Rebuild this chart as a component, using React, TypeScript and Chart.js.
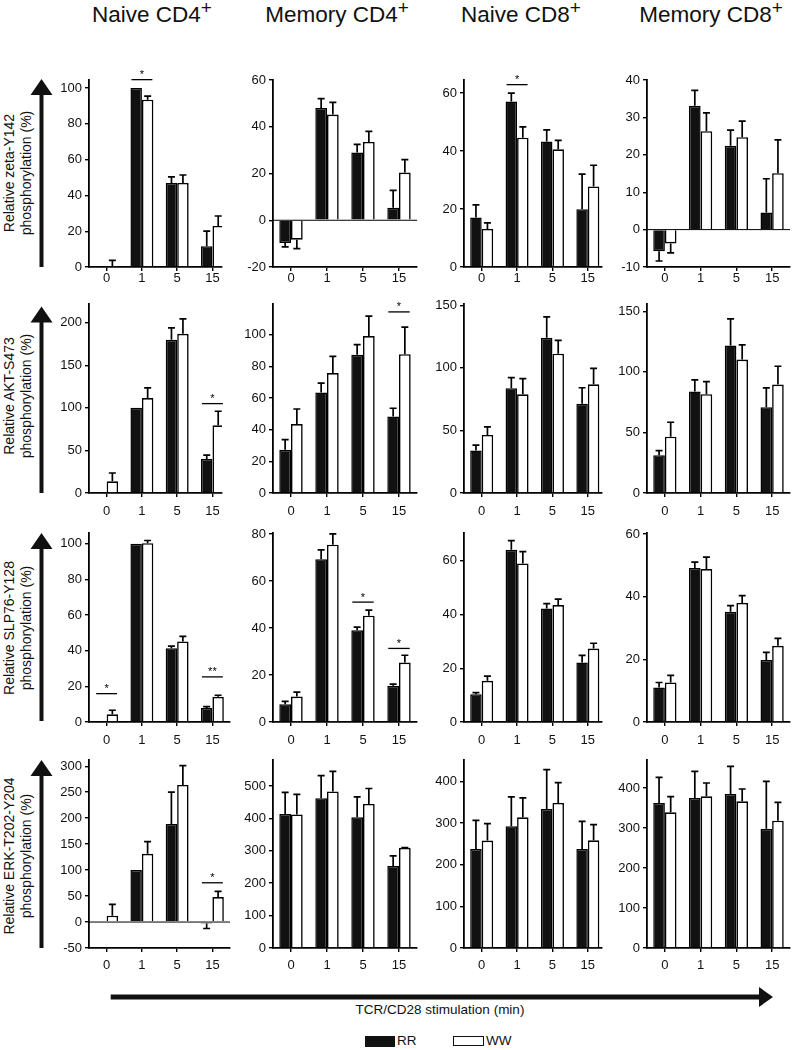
import React, { useEffect, useRef } from 'react';
import { Chart, registerables } from 'chart.js';

Chart.register(...registerables);

const FONT = '"Liberation Sans", Arial, Helvetica, sans-serif';

// ---------- categories / labels ----------
const timeLabels = ['0', '1', '5', '15'];
const cellTypes = ['Naive CD4', 'Memory CD4', 'Naive CD8', 'Memory CD8'];
const readouts = ['zeta-Y142', 'AKT-S473', 'SLP76-Y128', 'ERK-T202-Y204'];
const seriesNames = ['RR', 'WW'];
const xAxisTitle = 'TCR/CD28 stimulation (min)';

// ---------- Row 1: zeta-Y142 ----------
const zetaNaiveCD4_RR = [0, 100, 47, 11.6];
const zetaNaiveCD4_RRerr = [0, 0, 3.4, 8.5];
const zetaNaiveCD4_WW = [0.3, 93.5, 47, 22.9];
const zetaNaiveCD4_WWerr = [3.4, 2, 4.4, 5.6];
const zetaNaiveCD4_ticks = [0, 20, 40, 60, 80, 100];

const zetaMemCD4_RR = [-9.7, 48, 29, 5.3];
const zetaMemCD4_RRerr = [1.7, 4, 3.5, 7.5];
const zetaMemCD4_WW = [-8.3, 45.2, 33.5, 20.4];
const zetaMemCD4_WWerr = [3.8, 5.2, 4.5, 5.5];
const zetaMemCD4_ticks = [-20, 0, 20, 40, 60];

const zetaNaiveCD8_RR = [17.1, 57.1, 43.3, 19.9];
const zetaNaiveCD8_RRerr = [4.3, 2.9, 4, 12.1];
const zetaNaiveCD8_WW = [13.1, 44.6, 40.6, 27.8];
const zetaNaiveCD8_WWerr = [2.1, 3.7, 3.1, 7.3];
const zetaNaiveCD8_ticks = [0, 20, 40, 60];

const zetaMemCD8_RR = [-5.8, 33.1, 22.4, 4.6];
const zetaMemCD8_RRerr = [2.6, 4.1, 4.2, 9];
const zetaMemCD8_WW = [-3.7, 26.3, 24.7, 15.1];
const zetaMemCD8_WWerr = [2.5, 4.9, 4.3, 8.9];
const zetaMemCD8_ticks = [-10, 0, 10, 20, 30, 40];

// ---------- Row 2: AKT-S473 ----------
const aktNaiveCD4_RR = [0, 100, 180, 40];
const aktNaiveCD4_RRerr = [0, 0, 14, 4.5];
const aktNaiveCD4_WW = [13.7, 111.5, 187, 79.5];
const aktNaiveCD4_WWerr = [9.8, 12, 17.5, 16.5];
const aktNaiveCD4_ticks = [0, 50, 100, 150, 200];

const aktMemCD4_RR = [27.4, 63.6, 87.4, 48.3];
const aktMemCD4_RRerr = [6.4, 5.9, 6.4, 5.3];
const aktMemCD4_WW = [43.6, 75.8, 99.2, 87.8];
const aktMemCD4_WWerr = [9.5, 10.6, 12.6, 17.1];
const aktMemCD4_ticks = [0, 20, 40, 60, 80, 100];

const aktNaiveCD8_RR = [33.9, 83.6, 124.1, 71.3];
const aktNaiveCD8_RRerr = [4.3, 8.5, 16.6, 12.8];
const aktNaiveCD8_WW = [46.4, 78.8, 111.3, 86.8];
const aktNaiveCD8_WWerr = [6.5, 12.5, 10.7, 12.8];
const aktNaiveCD8_ticks = [0, 50, 100, 150];

const aktMemCD8_RR = [31.1, 83.7, 121.7, 70.7];
const aktMemCD8_RRerr = [3.9, 9.6, 22, 16];
const aktMemCD8_WW = [46.5, 81.5, 110.1, 89.5];
const aktMemCD8_WWerr = [11.9, 10.4, 12.1, 15.1];
const aktMemCD8_ticks = [0, 50, 100, 150];

// ---------- Row 3: SLP76-Y128 ----------
const slpNaiveCD4_RR = [0, 100, 41.3, 7.9];
const slpNaiveCD4_RRerr = [0, 0, 1.3, 0.7];
const slpNaiveCD4_WW = [4.3, 100.3, 45.2, 14.1];
const slpNaiveCD4_WWerr = [2.3, 1.5, 2.8, 0.9];
const slpNaiveCD4_ticks = [0, 20, 40, 60, 80, 100];

const slpMemCD4_RR = [7.5, 69.2, 39, 15.4];
const slpMemCD4_RRerr = [1.3, 4, 1.4, 0.7];
const slpMemCD4_WW = [10.8, 75.4, 45.2, 25.3];
const slpMemCD4_WWerr = [1.9, 4.6, 2.4, 3.1];
const slpMemCD4_ticks = [0, 20, 40, 60, 80];

const slpNaiveCD8_RR = [10.3, 64.1, 42.2, 22.1];
const slpNaiveCD8_RRerr = [0.6, 3.4, 1.8, 2.7];
const slpNaiveCD8_WW = [15.3, 59, 43.5, 27.3];
const slpNaiveCD8_WWerr = [1.8, 4.4, 2.2, 2];
const slpNaiveCD8_ticks = [0, 20, 40, 60];

const slpMemCD8_RR = [11, 49.1, 35.2, 19.8];
const slpMemCD8_RRerr = [1.6, 1.9, 1.9, 2.4];
const slpMemCD8_WW = [12.6, 48.8, 38, 24.3];
const slpMemCD8_WWerr = [2.3, 3.8, 2.3, 2.4];
const slpMemCD8_ticks = [0, 20, 40, 60];

// ---------- Row 4: ERK-T202-Y204 ----------
const erkNaiveCD4_RR = [0, 100, 189, -3];
const erkNaiveCD4_RRerr = [0, 0, 61, 9.5];
const erkNaiveCD4_WW = [12.2, 131.4, 264, 48];
const erkNaiveCD4_WWerr = [21.8, 23.6, 37, 11];
const erkNaiveCD4_ticks = [-50, 0, 50, 100, 150, 200, 250, 300];

const erkMemCD4_RR = [413.5, 462, 403, 253];
const erkMemCD4_RRerr = [66.8, 70, 63, 31];
const erkMemCD4_WW = [412, 483, 444.6, 309];
const erkMemCD4_WWerr = [62, 62, 47.4, 1];
const erkMemCD4_ticks = [0, 100, 200, 300, 400, 500];

const erkNaiveCD8_RR = [237.6, 292, 333.6, 237.6];
const erkNaiveCD8_RRerr = [68.8, 70.4, 94.4, 66.4];
const erkNaiveCD8_WW = [257.6, 313.6, 348, 258.4];
const erkNaiveCD8_WWerr = [40.8, 46.4, 48.8, 37.6];
const erkNaiveCD8_ticks = [0, 100, 200, 300, 400];

const erkMemCD8_RR = [362.5, 375, 385, 298.3];
const erkMemCD8_RRerr = [64.2, 66.7, 69.2, 118.4];
const erkMemCD8_WW = [339.2, 379.2, 366.7, 318.3];
const erkMemCD8_WWerr = [39.1, 33.3, 30.8, 45.9];
const erkMemCD8_ticks = [0, 100, 200, 300, 400];

// ---------- significance marks ----------
const sigZetaNaiveCD4 = [{ cat: 1, at: 104.7, mark: '*' }];
const sigZetaNaiveCD8 = [{ cat: 1, at: 62.9, mark: '*' }];
const sigAktNaiveCD4 = [{ cat: 3, at: 105, mark: '*' }];
const sigAktMemCD4 = [{ cat: 3, at: 114.5, mark: '*' }];
const sigSlpNaiveCD4 = [{ cat: 0, at: 15.9, mark: '*' }, { cat: 3, at: 25.3, mark: '**' }];
const sigSlpMemCD4 = [{ cat: 2, at: 51, mark: '*' }, { cat: 3, at: 31.3, mark: '*' }];
const sigErkNaiveCD4 = [{ cat: 3, at: 75.6, mark: '*' }];

type Sig = { cat: number; at: number; mark: string };
type Spec = {
  rr: number[]; rrErr: number[]; ww: number[]; wwErr: number[];
  ticks: number[]; yMin: number; yMax: number; sig: Sig[];
};

const panels: Spec[][] = [
  [
    { rr: zetaNaiveCD4_RR, rrErr: zetaNaiveCD4_RRerr, ww: zetaNaiveCD4_WW, wwErr: zetaNaiveCD4_WWerr, ticks: zetaNaiveCD4_ticks, yMin: 0, yMax: 104.5, sig: sigZetaNaiveCD4 },
    { rr: zetaMemCD4_RR, rrErr: zetaMemCD4_RRerr, ww: zetaMemCD4_WW, wwErr: zetaMemCD4_WWerr, ticks: zetaMemCD4_ticks, yMin: -20, yMax: 60, sig: [] },
    { rr: zetaNaiveCD8_RR, rrErr: zetaNaiveCD8_RRerr, ww: zetaNaiveCD8_WW, wwErr: zetaNaiveCD8_WWerr, ticks: zetaNaiveCD8_ticks, yMin: 0, yMax: 64.5, sig: sigZetaNaiveCD8 },
    { rr: zetaMemCD8_RR, rrErr: zetaMemCD8_RRerr, ww: zetaMemCD8_WW, wwErr: zetaMemCD8_WWerr, ticks: zetaMemCD8_ticks, yMin: -10, yMax: 40, sig: [] },
  ],
  [
    { rr: aktNaiveCD4_RR, rrErr: aktNaiveCD4_RRerr, ww: aktNaiveCD4_WW, wwErr: aktNaiveCD4_WWerr, ticks: aktNaiveCD4_ticks, yMin: 0, yMax: 222, sig: sigAktNaiveCD4 },
    { rr: aktMemCD4_RR, rrErr: aktMemCD4_RRerr, ww: aktMemCD4_WW, wwErr: aktMemCD4_WWerr, ticks: aktMemCD4_ticks, yMin: 0, yMax: 119.5, sig: sigAktMemCD4 },
    { rr: aktNaiveCD8_RR, rrErr: aktNaiveCD8_RRerr, ww: aktNaiveCD8_WW, wwErr: aktNaiveCD8_WWerr, ticks: aktNaiveCD8_ticks, yMin: 0, yMax: 151, sig: [] },
    { rr: aktMemCD8_RR, rrErr: aktMemCD8_RRerr, ww: aktMemCD8_WW, wwErr: aktMemCD8_WWerr, ticks: aktMemCD8_ticks, yMin: 0, yMax: 156, sig: [] },
  ],
  [
    { rr: slpNaiveCD4_RR, rrErr: slpNaiveCD4_RRerr, ww: slpNaiveCD4_WW, wwErr: slpNaiveCD4_WWerr, ticks: slpNaiveCD4_ticks, yMin: 0, yMax: 106, sig: sigSlpNaiveCD4 },
    { rr: slpMemCD4_RR, rrErr: slpMemCD4_RRerr, ww: slpMemCD4_WW, wwErr: slpMemCD4_WWerr, ticks: slpMemCD4_ticks, yMin: 0, yMax: 80.4, sig: sigSlpMemCD4 },
    { rr: slpNaiveCD8_RR, rrErr: slpNaiveCD8_RRerr, ww: slpNaiveCD8_WW, wwErr: slpNaiveCD8_WWerr, ticks: slpNaiveCD8_ticks, yMin: 0, yMax: 70.3, sig: [] },
    { rr: slpMemCD8_RR, rrErr: slpMemCD8_RRerr, ww: slpMemCD8_WW, wwErr: slpMemCD8_WWerr, ticks: slpMemCD8_ticks, yMin: 0, yMax: 60.3, sig: [] },
  ],
  [
    { rr: erkNaiveCD4_RR, rrErr: erkNaiveCD4_RRerr, ww: erkNaiveCD4_WW, wwErr: erkNaiveCD4_WWerr, ticks: erkNaiveCD4_ticks, yMin: -50, yMax: 312, sig: sigErkNaiveCD4 },
    { rr: erkMemCD4_RR, rrErr: erkMemCD4_RRerr, ww: erkMemCD4_WW, wwErr: erkMemCD4_WWerr, ticks: erkMemCD4_ticks, yMin: 0, yMax: 580, sig: [] },
    { rr: erkNaiveCD8_RR, rrErr: erkNaiveCD8_RRerr, ww: erkNaiveCD8_WW, wwErr: erkNaiveCD8_WWerr, ticks: erkNaiveCD8_ticks, yMin: 0, yMax: 451, sig: [] },
    { rr: erkMemCD8_RR, rrErr: erkMemCD8_RRerr, ww: erkMemCD8_WW, wwErr: erkMemCD8_WWerr, ticks: erkMemCD8_ticks, yMin: 0, yMax: 470, sig: [] },
  ],
];

// ---------- layout (pixels) ----------
const colLeft = [89, 273, 464, 647];
const plotWidth = [
  [133, 144, 138, 143],
  [133, 144, 138, 143],
  [141, 144, 138, 143],
  [141, 144, 138, 143],
];
const xMaxes = [
  [3.27, 3.5, 3.4, 3.5],
  [3.27, 3.5, 3.4, 3.5],
  [3.5, 3.5, 3.4, 3.5],
  [3.5, 3.5, 3.4, 3.5],
];
const rowTop = [80, 304, 532.5, 760];
const rowHeight = [187, 189, 188.5, 188];
const xLabelPad = [0, 7, 7, 6];
const titleCenters = [152, 337, 521, 711];

const PADL = 46;
const PADT = 26;
const PADR = 6;
const PADB = 32;

type Geo = { left: number; top: number; w: number; h: number; xMax: number; xPad: number };

function Panel({ spec, geo }: { spec: Spec; geo: Geo }) {
  const ref = useRef<HTMLCanvasElement | null>(null);
  useEffect(() => {
    if (!ref.current) return;
    const extras = {
      id: 'extras',
      afterDatasetsDraw(chart: any) {
        const ctx = chart.ctx;
        const ys = chart.scales.y;
        const area = chart.chartArea;
        ctx.save();
        ctx.strokeStyle = '#000';
        ctx.fillStyle = '#000';
        if (spec.yMin < 0) {
          const y0 = ys.getPixelForValue(0);
          ctx.lineWidth = 1;
          ctx.beginPath();
          ctx.moveTo(area.left, y0);
          ctx.lineTo(area.right, y0);
          ctx.stroke();
        }
        const vals = [spec.rr, spec.ww];
        const errs = [spec.rrErr, spec.wwErr];
        ctx.lineWidth = 1.7;
        for (let d = 0; d < 2; d++) {
          const meta = chart.getDatasetMeta(d);
          meta.data.forEach((bar: any, i: number) => {
            const e = errs[d][i];
            if (!e) return;
            const v = vals[d][i];
            const dir = v < 0 ? -1 : 1;
            const ya = ys.getPixelForValue(v);
            const yb = ys.getPixelForValue(v + dir * e);
            ctx.beginPath();
            ctx.moveTo(bar.x, ya);
            ctx.lineTo(bar.x, yb);
            ctx.moveTo(bar.x - 3.5, yb);
            ctx.lineTo(bar.x + 3.5, yb);
            ctx.stroke();
          });
        }
        ctx.lineWidth = 1.3;
        ctx.font = `11px ${FONT}`;
        ctx.textAlign = 'center';
        ctx.textBaseline = 'alphabetic';
        spec.sig.forEach((s) => {
          const b0: any = chart.getDatasetMeta(0).data[s.cat];
          const b1: any = chart.getDatasetMeta(1).data[s.cat];
          const l = b0.x - b0.width / 2 + 1;
          const r = b1.x + b1.width / 2 - 1;
          const y = ys.getPixelForValue(s.at);
          ctx.beginPath();
          ctx.moveTo(l, y);
          ctx.lineTo(r, y);
          ctx.stroke();
          ctx.fillText(s.mark, (l + r) / 2, y - 1.5);
        });
        ctx.restore();
      },
    };

    const axisGrid = {
      display: true,
      drawOnChartArea: false,
      drawTicks: true,
      tickLength: 4,
      color: '#000',
      lineWidth: 1.4,
      offset: false,
    };
    const axisBorder = { display: true, color: '#000', width: 1.8 };

    const chart = new Chart(ref.current, {
      type: 'bar',
      data: {
        datasets: [
          {
            label: seriesNames[0],
            data: spec.rr.map((y, i) => ({ x: i, y })),
            backgroundColor: '#111',
            borderColor: '#000',
            borderWidth: 1.5,
          },
          {
            label: seriesNames[1],
            data: spec.ww.map((y, i) => ({ x: i, y })),
            backgroundColor: '#fff',
            borderColor: '#000',
            borderWidth: 1.6,
          },
        ],
      },
      options: {
        animation: false,
        responsive: false,
        events: [],
        layout: { padding: { left: 0, top: PADT, right: PADR, bottom: 0 } },
        plugins: { legend: { display: false }, tooltip: { enabled: false } },
        datasets: { bar: { categoryPercentage: 0.65, barPercentage: 1 } },
        scales: {
          x: {
            type: 'linear',
            min: -0.5,
            max: geo.xMax,
            offset: false,
            grid: axisGrid,
            border: axisBorder,
            ticks: {
              color: '#111',
              font: { family: FONT, size: 13 },
              padding: geo.xPad,
              maxRotation: 0,
              autoSkip: false,
              callback: (v: any) => timeLabels[Math.round(Number(v))] ?? '',
            },
            afterBuildTicks: (s: any) => {
              s.ticks = timeLabels.map((_, i) => ({ value: i }));
            },
            afterFit: (s: any) => {
              s.height = PADB;
            },
          },
          y: {
            type: 'linear',
            min: spec.yMin,
            max: spec.yMax,
            grid: axisGrid,
            border: axisBorder,
            ticks: {
              color: '#111',
              font: { family: FONT, size: 13 },
              padding: 3,
              callback: (v: any) => String(v),
            },
            afterBuildTicks: (s: any) => {
              s.ticks = spec.ticks.map((v) => ({ value: v }));
            },
            afterFit: (s: any) => {
              s.width = PADL;
            },
          },
        },
      } as any,
      plugins: [extras],
    });
    return () => chart.destroy();
  }, [spec, geo]);

  const cw = Math.round(PADL + geo.w + PADR);
  const ch = Math.round(PADT + geo.h + PADB);
  return (
    <canvas
      ref={ref}
      width={cw}
      height={ch}
      style={{ position: 'absolute', left: geo.left - PADL, top: geo.top - PADT, width: cw, height: ch }}
    />
  );
}

const yLabelCenters = [173, 396, 628, 856];
const arrowTops = [79, 306.5, 533, 760];
const arrowBottoms = [267, 493, 721, 948];

export default function App() {
  const geos: Geo[][] = panels.map((row, r) =>
    row.map((_, c) => ({
      left: colLeft[c],
      top: rowTop[r],
      w: plotWidth[r][c],
      h: rowHeight[r],
      xMax: xMaxes[r][c],
      xPad: xLabelPad[r],
    }))
  );

  return (
    <div
      style={{
        position: 'absolute',
        left: 0,
        top: 0,
        width: 792,
        height: 1050,
        background: '#fff',
        overflow: 'hidden',
        fontFamily: FONT,
        color: '#111',
      }}
    >
      {cellTypes.map((t, i) => (
        <div
          key={t}
          style={{
            position: 'absolute',
            left: titleCenters[i] - 110,
            top: 2,
            width: 220,
            textAlign: 'center',
            fontSize: 22.5,
            lineHeight: '26px',
            whiteSpace: 'nowrap',
          }}
        >
          {t}
          <span style={{ fontSize: 19, position: 'relative', top: -8 }}>+</span>
        </div>
      ))}

      {readouts.map((r, i) => (
        <div
          key={r}
          style={{
            position: 'absolute',
            left: 18 - 110,
            top: yLabelCenters[i] - 17,
            width: 220,
            height: 34,
            textAlign: 'center',
            fontSize: 14,
            lineHeight: '16.5px',
            transform: 'rotate(-90deg)',
            whiteSpace: 'nowrap',
          }}
        >
          <div>Relative {r}</div>
          <div>phosphorylation (%)</div>
        </div>
      ))}

      <svg
        width={792}
        height={1050}
        style={{ position: 'absolute', left: 0, top: 0, pointerEvents: 'none' }}
      >
        {arrowTops.map((t, i) => (
          <g key={i} fill="#111">
            <rect x={39.5} y={t + 15} width={4} height={arrowBottoms[i] - t - 15} />
            <polygon points={`30.5,${t + 16} 52.5,${t + 16} 41.5,${t}`} />
          </g>
        ))}
        <g fill="#111">
          <rect x={110.7} y={994.5} width={651} height={5} />
          <polygon points="759,987 759,1007 773,997" />
        </g>
      </svg>

      {panels.map((row, r) =>
        row.map((spec, c) => <Panel key={`${r}-${c}`} spec={spec} geo={geos[r][c]} />)
      )}

      <div
        style={{
          position: 'absolute',
          left: 240,
          width: 400,
          top: 1002,
          textAlign: 'center',
          fontSize: 13.5,
          lineHeight: '16px',
        }}
      >
        {xAxisTitle}
      </div>

      <div style={{ position: 'absolute', left: 364.5, top: 1035.5, width: 30.5, height: 11, background: '#111' }} />
      <div style={{ position: 'absolute', left: 397, top: 1033, fontSize: 13.5, lineHeight: '16px' }}>{seriesNames[0]}</div>
      <div
        style={{
          position: 'absolute',
          left: 453,
          top: 1035.5,
          width: 29,
          height: 8,
          border: '1.5px solid #111',
          background: '#fff',
        }}
      />
      <div style={{ position: 'absolute', left: 486, top: 1033, fontSize: 13.5, lineHeight: '16px' }}>{seriesNames[1]}</div>
    </div>
  );
}
